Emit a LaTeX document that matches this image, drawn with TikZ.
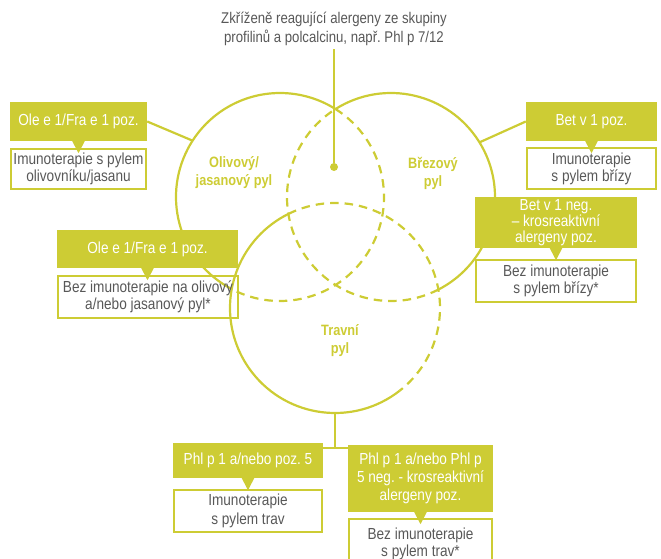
\documentclass[tikz,border=0pt]{standalone}
\usepackage{fontspec}
\setmainfont{Liberation Sans}[FakeStretch=0.85]
\frenchspacing
\usetikzlibrary{calc}

\definecolor{pylgreen}{RGB}{205,204,52}
\definecolor{pylgray}{RGB}{88,88,88}

\tikzset{
  tag/.style={fill=pylgreen, text=white, align=center, inner sep=0pt,
    font=\fontsize{16}{16.5}\selectfont},
  note/.style={draw=pylgreen, line width=1.8pt, text=pylgray, align=center,
    inner sep=0pt, font=\fontsize{16}{17}\selectfont},
  pyl/.style={text=pylgreen, align=center, font=\fontsize{15}{18}\selectfont\bfseries},
  ring/.style={draw=pylgreen, line width=2.2pt},
  ringgap/.style={ring, dash pattern=on 8.5pt off 6pt},
  link/.style={draw=pylgreen, line width=2.2pt},
}
% small triangle under a green label
\newcommand{\bubbletail}[1]{\fill[pylgreen] ($(#1.south)+(-6.5,-0.5)$) -- ++(13,0) -- ++(-6.5,12.5) -- cycle;}

\begin{document}
\begin{tikzpicture}[x=1pt, y=-1pt]
    \path[use as bounding box, clip] (0,0) rectangle (661,559);

    % venn circles
    \coordinate (cL) at (280,197);
    \coordinate (cR) at (391,197);
    \coordinate (cB) at (335,308);
    \draw[ring] ($(cL)+(117.7:104)$) arc[start angle=117.7, end angle=302.2, radius=104];
    \draw[ringgap] ($(cL)+(302.2:104)$) arc[start angle=302.2, end angle=477.7, radius=104];
    \draw[ring] ($(cR)+(237.8:104)$) arc[start angle=237.8, end angle=422.9, radius=104];
    \draw[ringgap] ($(cR)+(62.9:104)$) arc[start angle=62.9, end angle=237.8, radius=104];
    \draw[ring] ($(cB)+(52:105)$) arc[start angle=52, end angle=243.6, radius=105];
    \draw[ringgap] ($(cB)+(243.6:105)$) arc[start angle=243.6, end angle=412, radius=105];

    \node[pyl] (olivelab) at (234,173) {Olivový/\\jasanový pyl};
    \node[pyl] (birchlab) at (433,173) {Březový\\pyl};
    \node[pyl] (grasslab) at (340,341) {Travní\\pyl};

    % cross-reacting allergens
    \node[text=pylgray, align=center, font=\fontsize{15.5}{18.5}\selectfont] (cross) at (334,29)
        {Zkříženě reagující alergeny ze skupiny\\profilinů a polcalcinu, např. Phl p 7/12};
    \node[circle, fill=pylgreen, inner sep=0pt, minimum size=8pt] (hub) at (334,167) {};
    \draw[link] (hub) -- (hub |- cross.south);

    % olive / ash
    \node[note, minimum width=135.2, minimum height=40.2] (ole1w) at (78.5,169)
        {Imunoterapie s pylem\\olivovníku/jasanu};
    \node[tag, minimum width=137, minimum height=39] (ole1g) at (78.5,121.5) {Ole e 1/Fra e 1 poz.};
    \bubbletail{ole1g}
    \coordinate (olivehit) at ($(cL)+(212.8:104)$);
    \draw[link] (ole1g.east) -- (olivehit);

    \node[note, minimum width=180.2, minimum height=42.2] (ole2w) at (148,297)
        {Bez imunoterapie na olivový\\a/nebo jasanový pyl*};
    \node[tag, minimum width=181, minimum height=38] (ole2g) at (147.5,249) {Ole e 1/Fra e 1 poz.};
    \bubbletail{ole2g}

    % birch
    \node[note, minimum width=129.2, minimum height=41.2] (bet1w) at (591.5,168.5)
        {Imunoterapie\\s pylem břízy};
    \node[tag, minimum width=131, minimum height=39] (bet1g) at (591.5,121.5) {Bet v 1 poz.};
    \bubbletail{bet1g}
    \coordinate (birchhit) at ($(cR)+(-31.7:104)$);
    \draw[link] (bet1g.west) -- (birchhit);

    \node[note, minimum width=160.2, minimum height=42.2] (betnw) at (556,281)
        {Bez imunoterapie\\s pylem břízy*};
    \node[tag, minimum width=162, minimum height=51, font=\fontsize{16}{16}\selectfont] (betng) at (556,222.5)
        {Bet v 1 neg.\\– krosreaktivní\\alergeny poz.};
    \bubbletail{betng}

    % grass
    \node[note, minimum width=148.2, minimum height=42.2, font=\fontsize{16}{18.5}\selectfont] (phlAw) at (248,511)
        {Imunoterapie\\s pylem trav};
    \node[tag, minimum width=150, minimum height=35] (phlAg) at (248,460.5) {Phl p 1 a/nebo poz. 5};
    \bubbletail{phlAg}

    \node[note, minimum width=143.2, minimum height=50.2] (phlBw) at (420.5,544)
        {Bez imunoterapie\\s pylem trav*};
    \node[tag, minimum width=145, minimum height=67, font=\fontsize{16}{18.3}\selectfont] (phlBg) at (420.5,478.5)
        {Phl p 1 a/nebo Phl p\\5 neg. - krosreaktivní\\alergeny poz.};
    \bubbletail{phlBg}

    \coordinate (grassfoot) at ($(cB)+(90:105)$);
    \draw[link] (grassfoot) -- ++(0,35) coordinate (split);
    \draw[link] (phlAg.east |- split) -- (phlBg.west |- split);
\end{tikzpicture}
\end{document}
